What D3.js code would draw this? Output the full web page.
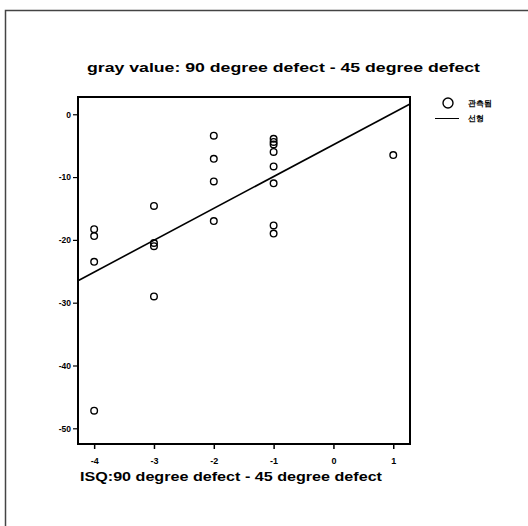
<!DOCTYPE html>
<html>
<head>
<meta charset="utf-8">
<script src="https://cdn.jsdelivr.net/npm/d3@7"></script>
<style>
    body { margin: 0; background: #fff; }
    text { font-family: "Liberation Sans", Arial, sans-serif; }
</style>
</head>
<body>
<div id="chart"></div>
<script>
// Observed points (x = ISQ difference, y = gray value difference)
var obsX = [-4, -4, -4, -4,
            -3, -3, -3, -3,
            -2, -2, -2, -2,
            -1, -1, -1, -1, -1, -1, -1, -1,
            1];
var obsY = [-18.3, -19.4, -23.5, -47.2,
            -14.6, -20.5, -21.0, -29.0,
            -3.4, -7.1, -10.7, -17.0,
            -3.9, -4.4, -4.8, -6.0, -8.3, -11.0, -17.7, -19.0,
            -6.5];
// Linear fit
var fitSlope = 5.07,
    fitIntercept = -4.85;

var xTicks = [-4, -3, -2, -1, 0, 1];
var yTicks = [0, -10, -20, -30, -40, -50];

var titleText = 'gray value: 90 degree defect - 45 degree defect';
var xLabelText = 'ISQ:90 degree defect - 45 degree defect';
var legendLabels = ['관측됨', '선형'];

var W = 528, H = 526;
var plot = { left: 78, right: 410, top: 97, bottom: 444 };

var svg = d3.select( '#chart' )
    .append( 'svg' )
    .attr( 'width', W )
    .attr( 'height', H );

// outer frame (only left/top visible)
svg.append( 'path' )
    .attr( 'd', 'M5.5,' + H + 'V10.5H' + W )
    .attr( 'fill', 'none' )
    .attr( 'stroke', '#444' )
    .attr( 'stroke-width', 1.5 );

var x = d3.scaleLinear()
    .domain( [-4.27, 1.28] )
    .range( [plot.left, plot.right] );

var y = d3.scaleLinear()
    .domain( [-52.5, 2.75] )
    .range( [plot.bottom, plot.top] );

// plain hyphen minus, like the original
var fmtTick = d => String( d );

// title
svg.append( 'text' )
    .attr( 'x', 87 )
    .attr( 'y', 72 )
    .attr( 'font-size', 12.5 )
    .attr( 'font-weight', 'bold' )
    .attr( 'textLength', 393 )
    .attr( 'lengthAdjust', 'spacingAndGlyphs' )
    .text( titleText );

// axes
svg.append( 'g' )
    .attr( 'transform', 'translate(0,' + plot.bottom + ')' )
    .call( d3.axisBottom( x ).tickValues( xTicks ).tickFormat( fmtTick ).tickSize( 5 ).tickSizeOuter( 0 ).tickPadding( 9 ) )
    .call( g => g.select( '.domain' ).remove() )
    .call( g => g.selectAll( 'line' ).attr( 'stroke-width', 1.5 ) )
    .call( g => g.selectAll( 'text' )
        .attr( 'font-size', 9 )
        .attr( 'font-weight', 'bold' )
        .attr( 'font-family', '"Liberation Sans", Arial, sans-serif' ) );

svg.append( 'g' )
    .attr( 'transform', 'translate(' + plot.left + ',0)' )
    .call( d3.axisLeft( y ).tickValues( yTicks ).tickFormat( fmtTick ).tickSize( 5 ).tickSizeOuter( 0 ).tickPadding( 2 ) )
    .call( g => g.select( '.domain' ).remove() )
    .call( g => g.selectAll( 'line' ).attr( 'stroke-width', 1.2 ) )
    .call( g => g.selectAll( 'text' )
        .attr( 'font-size', 8.5 )
        .attr( 'font-weight', 'bold' )
        .attr( 'font-family', '"Liberation Sans", Arial, sans-serif' ) );

// plot frame
svg.append( 'rect' )
    .attr( 'x', plot.left )
    .attr( 'y', plot.top )
    .attr( 'width', plot.right - plot.left )
    .attr( 'height', plot.bottom - plot.top )
    .attr( 'fill', 'none' )
    .attr( 'stroke', '#000' )
    .attr( 'stroke-width', 2 );

// x label
svg.append( 'text' )
    .attr( 'x', 80 )
    .attr( 'y', 481 )
    .attr( 'font-size', 13.5 )
    .attr( 'font-weight', 'bold' )
    .attr( 'textLength', 302 )
    .attr( 'lengthAdjust', 'spacingAndGlyphs' )
    .text( xLabelText );

// regression line across the plot
var xDom = x.domain();
var fitLine = d3.line()
    .x( d => x( d ) )
    .y( d => y( fitIntercept + fitSlope * d ) );

svg.append( 'path' )
    .datum( xDom )
    .attr( 'd', fitLine )
    .attr( 'fill', 'none' )
    .attr( 'stroke', '#000' )
    .attr( 'stroke-width', 1.6 );

// observed points
svg.append( 'g' )
    .selectAll( 'circle' )
    .data( d3.range( obsX.length ) )
    .join( 'circle' )
        .attr( 'cx', i => x( obsX[i] ) )
        .attr( 'cy', i => y( obsY[i] ) )
        .attr( 'r', 3.3 )
        .attr( 'fill', 'none' )
        .attr( 'stroke', '#000' )
        .attr( 'stroke-width', 1.4 );

// legend
var legend = svg.append( 'g' );
legend.append( 'circle' )
    .attr( 'cx', 448 )
    .attr( 'cy', 103 )
    .attr( 'r', 5 )
    .attr( 'fill', 'none' )
    .attr( 'stroke', '#000' )
    .attr( 'stroke-width', 1.4 );
legend.append( 'line' )
    .attr( 'x1', 435 )
    .attr( 'x2', 459 )
    .attr( 'y1', 118.5 )
    .attr( 'y2', 118.5 )
    .attr( 'stroke', '#000' )
    .attr( 'stroke-width', 1 );
legend.selectAll( 'text' )
    .data( legendLabels )
    .join( 'text' )
        .attr( 'x', 468 )
        .attr( 'y', ( d, i ) => 106 + i * 15 )
        .attr( 'font-size', 8 )
        .attr( 'font-weight', 'bold' )
        .attr( 'font-family', '"Noto Sans CJK KR", sans-serif' )
        .text( d => d );
</script>
</body>
</html>
